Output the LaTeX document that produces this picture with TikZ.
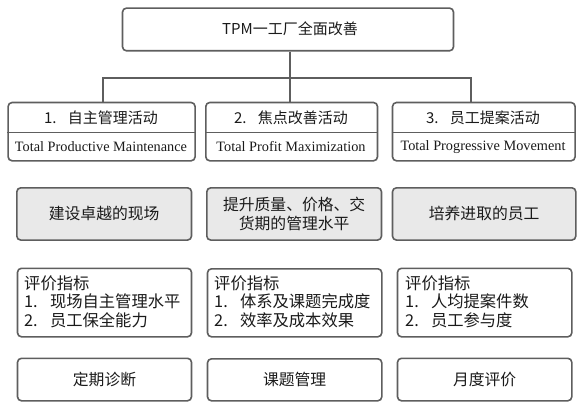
\documentclass[tikz,border=0pt]{standalone}
\usepackage{fontspec}
\setmainfont{Liberation Serif}
\newfontfamily\cjk{Noto Sans CJK SC}
\definecolor{edge}{HTML}{5E5E5E}
\definecolor{shade}{HTML}{E9E9E9}
\definecolor{ink}{HTML}{1A1A1A}
\tikzset{
  panel/.style={draw=edge, line width=1.6pt, rounded corners=4pt, fill=white, inner sep=0pt, anchor=north west},
  grayp/.style={panel, fill=shade},
  conn/.style={draw=edge, line width=1.6pt},
  zh/.style={font=\cjk\fontsize{15.8}{18.5}\selectfont, text=ink, inner sep=0pt},
  zhv/.style={font=\cjk\fontsize{16.3}{18.5}\selectfont, text=ink, inner sep=0pt},
  zhs/.style={font=\cjk\fontsize{15}{17}\selectfont, text=ink, inner sep=0pt},
  en/.style={font=\fontsize{14.3}{16}\selectfont, text=ink, inner sep=0pt},
}
\newcommand{\nm}[1]{#1.\hspace{0.75em}}
\begin{document}
\begin{tikzpicture}[x=1pt,y=-1pt]
\useasboundingbox[fill=white] (0,0) rectangle (588,412);
% top
\node[panel, minimum width=331pt, minimum height=42.7pt] (top) at (121.7,7.3) {};
\node[zhs] (toptxt) at (290,29) {TPM一工厂全面改善};
% header boxes
\node[panel, minimum width=187pt, minimum height=58.3pt] (b1) at (7.3,101.7) {};
\node[panel, minimum width=171.7pt, minimum height=58.3pt] (b2) at (205,101.7) {};
\node[panel, minimum width=182.6pt, minimum height=58.3pt] (b3) at (391.7,101.7) {};
\coordinate (dv) at (0,132.5);
\draw[conn] (b1.west |- dv) -- (b1.east |- dv);
\draw[conn] (b2.west |- dv) -- (b2.east |- dv);
\draw[conn] (b3.west |- dv) -- (b3.east |- dv);
\node[zhs] (t1) at (101,118) {\nm{1}自主管理活动};
\node[zhs] (t2) at (291,118) {\nm{2}焦点改善活动};
\node[zhs] (t3) at (483,118) {\nm{3}员工提案活动};
\node[en] (e1) at (101,147) {Total Productive Maintenance};
\node[en] (e2) at (291,147) {Total Profit Maximization};
\node[en] (e3) at (483,147) {Total Progressive Movement};
% connectors
\coordinate (j) at (290,77.7);
\coordinate (d1) at (102.7,77.7);
\coordinate (d3) at (471,77.7);
\draw[conn] (j |- top.south) -- (j);
\draw[conn] (d1 |- b1.north) -- (d1) -- (d3) -- (d3 |- b3.north);
\draw[conn] (j) -- (j |- b2.north);
% gray row
\node[grayp, minimum width=174.7pt, minimum height=52.3pt] (g1) at (16,187) {};
\node[grayp, minimum width=174.7pt, minimum height=52.3pt] (g2) at (206,187) {};
\node[grayp, minimum width=183.3pt, minimum height=52.3pt] (g3) at (391.7,187) {};
\node[zh] (gt1) at (g1.center) {建设卓越的现场};
\node[zh, align=center] (gt2) at (g2.center) {提升质量、价格、交\\货期的管理水平};
\node[zh] (gt3) at (g3.center) {培养进取的员工};
% evaluation row
\node[panel, minimum width=174pt, minimum height=68.5pt] (v1) at (16.7,267.5) {};
\node[panel, minimum width=174.3pt, minimum height=68pt] (v2) at (206.7,268) {};
\node[panel, minimum width=174.3pt, minimum height=68.5pt] (v3) at (396.7,267.5) {};
\node[zhv, align=left, anchor=west] (vt1) at (24,301.5) {评价指标\\\nm{1}现场自主管理水平\\\nm{2}员工保全能力};
\node[zhv, align=left, anchor=west] (vt2) at (214,301.5) {评价指标\\\nm{1}体系及课题完成度\\\nm{2}效率及成本效果};
\node[zhv, align=left, anchor=west] (vt3) at (405,301.5) {评价指标\\\nm{1}人均提案件数\\\nm{2}员工参与度};
% bottom row
\node[panel, minimum width=174pt, minimum height=42.5pt] (m1) at (16.7,357.5) {};
\node[panel, minimum width=174.3pt, minimum height=42pt] (m2) at (206.7,358) {};
\node[panel, minimum width=174.3pt, minimum height=42.5pt] (m3) at (396.7,357.5) {};
\node[zh] (mt1) at (m1.center) {定期诊断};
\node[zh] (mt2) at (m2.center) {课题管理};
\node[zh] (mt3) at (m3.center) {月度评价};
\end{tikzpicture}
\end{document}
